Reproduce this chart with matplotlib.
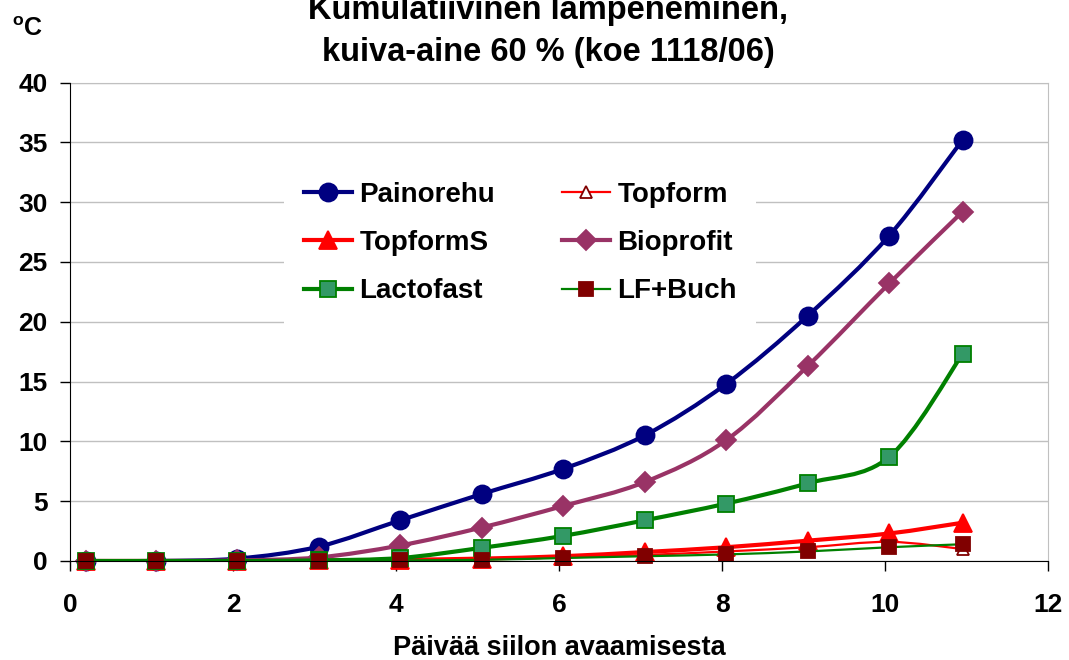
import numpy as np
import matplotlib
matplotlib.use("Agg")
import matplotlib.pyplot as plt
from matplotlib.path import Path
from matplotlib.patches import PathPatch
from matplotlib.lines import Line2D

plt.rcParams['font.family'] = ['Liberation Sans', 'DejaVu Sans']
plt.rcParams['font.weight'] = 'bold'

# Data
days = [0.2, 1.05, 2.05, 3.05, 4.05, 5.05, 6.05, 7.05, 8.05, 9.05, 10.05, 10.95]
painorehu = [0, 0, 0.2, 1.2, 3.4, 5.6, 7.7, 10.5, 14.8, 20.5, 27.2, 35.2]
topform = [0, 0, 0, 0, 0.05, 0.15, 0.3, 0.5, 0.8, 1.15, 1.6, 1.0]
topforms = [0, 0, 0, 0.05, 0.1, 0.2, 0.4, 0.75, 1.15, 1.7, 2.3, 3.2]
bioprofit = [0, 0, 0.05, 0.3, 1.3, 2.8, 4.6, 6.6, 10.1, 16.3, 23.2, 29.2]
lactofast = [0, 0, 0, 0.05, 0.25, 1.1, 2.1, 3.4, 4.8, 6.5, 8.7, 17.3]
lfbuch = [0, 0, 0, 0, 0.05, 0.1, 0.25, 0.4, 0.55, 0.8, 1.15, 1.4]

xticks = [0, 2, 4, 6, 8, 10, 12]
yticks = [0, 5, 10, 15, 20, 25, 30, 35, 40]


def smooth_path(xs, ys):
    # Excel-like smoothed line: Catmull-Rom as cubic Bezier segments
    pts = np.column_stack([xs, ys]).astype(float)
    n = len(pts)
    verts = [pts[0]]
    codes = [Path.MOVETO]
    for i in range(n - 1):
        p0 = pts[i - 1] if i > 0 else pts[i]
        p1 = pts[i]
        p2 = pts[i + 1]
        p3 = pts[i + 2] if i + 2 < n else pts[i + 1]
        verts += [p1 + (p2 - p0) / 6, p2 - (p3 - p1) / 6, p2]
        codes += [Path.CURVE4] * 3
    return Path(verts, codes)


series = [
    ("Painorehu", painorehu, dict(color='#000080', lw=3, marker='o', ms=13, mfc='#000080', mec='#000080')),
    ("Topform", topform, dict(color='#ff0000', lw=1.6, marker='^', ms=8, mfc='white', mec='#800000')),
    ("TopformS", topforms, dict(color='#ff0000', lw=3, marker='^', ms=13, mfc='#ff0000', mec='#ff0000')),
    ("Bioprofit", bioprofit, dict(color='#993366', lw=3, marker='D', ms=10, mfc='#993366', mec='#993366')),
    ("Lactofast", lactofast, dict(color='#008000', lw=3, marker='s', ms=12, mfc='#339966', mec='#008000')),
    ("LF+Buch", lfbuch, dict(color='#008000', lw=1.6, marker='s', ms=10, mfc='#800000', mec='#800000')),
]

fig = plt.figure(figsize=(10.69, 6.6), dpi=100)
ax = fig.add_axes([0.0655, 0.15, 0.915, 0.725])

handles = {}
for k, (name, vals, st) in enumerate(series):
    z = 3 + k
    ax.add_patch(PathPatch(smooth_path(days, vals), fill=False, edgecolor=st['color'],
                           lw=st['lw'], zorder=z, capstyle='round', joinstyle='round'))
    ax.plot(days, vals, linestyle='none', marker=st['marker'], ms=st['ms'],
            mfc=st['mfc'], mec=st['mec'], mew=1.3, zorder=z + 0.5, clip_on=False)
    handles[name] = Line2D([], [], color=st['color'], lw=st['lw'], marker=st['marker'],
                           ms=st['ms'], mfc=st['mfc'], mec=st['mec'], mew=1.3)

ax.set_xlim(0, 12)
ax.set_ylim(0, 40)
ax.set_xticks(xticks)
ax.set_yticks(yticks)
ax.tick_params(axis='both', direction='out', length=7, width=1, labelsize=19)
ax.tick_params(axis='x', pad=16)
ax.tick_params(axis='y', pad=9)
ax.yaxis.grid(True, color='#c0c0c0', lw=1)
ax.set_axisbelow(True)
for side in ['top', 'right']:
    ax.spines[side].set_color('#c0c0c0')
for side in ['left', 'bottom']:
    ax.spines[side].set_color('black')
    ax.spines[side].set_zorder(10)

ax.set_xlabel("Päivää siilon avaamisesta", fontsize=19.5, fontweight='bold', labelpad=13)

order = ["Painorehu", "TopformS", "Lactofast", "Topform", "Bioprofit", "LF+Buch"]
leg = ax.legend([handles[n] for n in order], order, ncol=2, loc='upper left',
                bbox_to_anchor=(0.205, 0.862), fontsize=20, frameon=True,
                facecolor='white', edgecolor='none', framealpha=1, fancybox=False,
                handlelength=1.75, handletextpad=0.25, columnspacing=2.4,
                labelspacing=0.8, borderpad=0.7)
leg.set_zorder(20)

narrow = ['Liberation Sans Narrow', 'Liberation Sans', 'DejaVu Sans']
fig.text(0.513, 0.897, "Kumulatiivinen lämpeneminen,\nkuiva-aine 60 % (koe 1118/06)",
         ha='center', va='bottom', fontsize=23.5, fontweight='bold', family=narrow,
         linespacing=1.45)
fig.text(0.011, 0.945, r"$\mathregular{^o}$C", fontsize=18, fontweight='bold',
         family=narrow, ha='left', va='baseline')

fig.savefig("out.png", dpi=100)
